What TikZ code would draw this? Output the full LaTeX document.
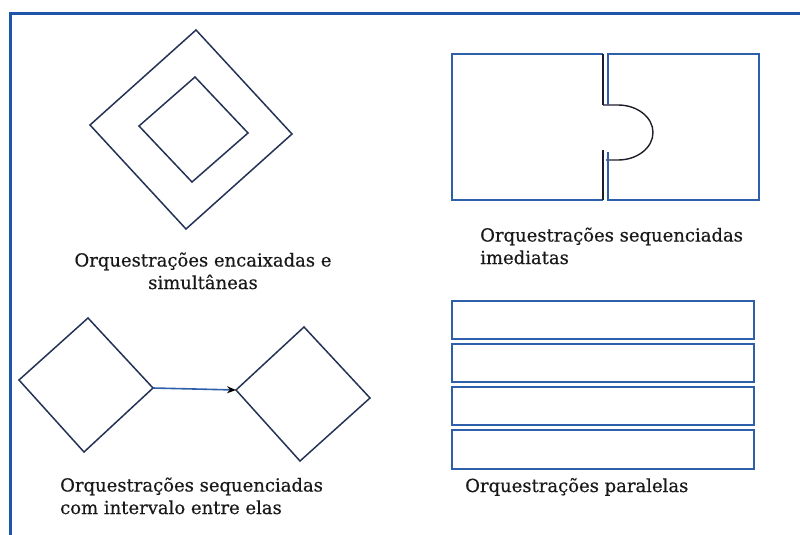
\documentclass[tikz,border=0pt]{standalone}
\usepackage{fontspec}
\setmainfont{DejaVu Serif}[FakeBold=0.5]
\usetikzlibrary{arrows.meta}
\definecolor{frameblue}{RGB}{30,85,170}
\definecolor{navy}{RGB}{35,50,85}
\definecolor{rectblue}{RGB}{45,95,170}
\definecolor{darkedge}{RGB}{30,30,40}
\definecolor{txt}{RGB}{25,25,25}
\begin{document}
\begin{tikzpicture}[x=1pt,y=-1pt,
  dshape/.style={draw=navy, line width=1.5pt, line join=miter},
  rshape/.style={draw=rectblue, line width=1.6pt},
  bshape/.style={draw=darkedge, line width=1.4pt},
  lbl/.style={font=\fontsize{18}{22.5}\selectfont, text=txt, inner sep=0pt, align=left}]
\useasboundingbox (0,0) rectangle (800,535);
% frame
\draw[frameblue, line width=3pt] (10,537) -- (10,14) -- (802,14);

% nested diamonds
\coordinate (o1) at (196,30);  \coordinate (o2) at (292,134);
\coordinate (o3) at (186,229); \coordinate (o4) at (90,125);
\draw[dshape] (o1) -- (o2) -- (o3) -- (o4) -- cycle;
\coordinate (i1) at (195,77);  \coordinate (i2) at (248,133);
\coordinate (i3) at (192,182); \coordinate (i4) at (139,126);
\draw[dshape] (i1) -- (i2) -- (i3) -- (i4) -- cycle;
\node[lbl, align=center, anchor=base] (t1) at (203,289) {Orquestrações encaixadas e\\simultâneas};

% puzzle pieces
\draw[rshape] (603,54) -- (452,54) -- (452,200) -- (603,200);
\draw[bshape] (603,54) -- (603,105);
\draw[bshape] (603,150) -- (603,200);
\draw[bshape] (603,105) -- (618,105) arc[start angle=-90, end angle=90, x radius=35, y radius=27.5] -- (606,160);
\draw[rshape] (608,105) -- (608,54) -- (759,54) -- (759,200) -- (608,200) -- (608,152);
\node[lbl, anchor=base west] (t2) at (480,264) {Orquestrações sequenciadas\\imediatas};

% sequenced diamonds with interval
\coordinate (a1) at (88,318);  \coordinate (a2) at (153,388);
\coordinate (a3) at (84,452);  \coordinate (a4) at (19,380);
\draw[dshape] (a1) -- (a2) -- (a3) -- (a4) -- cycle;
\coordinate (b1) at (304,327); \coordinate (b2) at (370,398);
\coordinate (b3) at (300,461); \coordinate (b4) at (236,390);
\draw[dshape] (b1) -- (b2) -- (b3) -- (b4) -- cycle;
\draw[rectblue, line width=1.6pt, -{Stealth[length=9pt, width=7pt, color=black]}] (a2) -- (b4);
\node[lbl, anchor=base west] (t3) at (60,514) {Orquestrações sequenciadas\\com intervalo entre elas};

% parallel
\draw[rshape] (452,301) rectangle (754,339);
\draw[rshape] (452,344) rectangle (754,382);
\draw[rshape] (452,387) rectangle (754,425);
\draw[rshape] (452,430) rectangle (754,469);
\node[lbl, anchor=base west] (t4) at (465,492) {Orquestrações paralelas};
\end{tikzpicture}
\end{document}
